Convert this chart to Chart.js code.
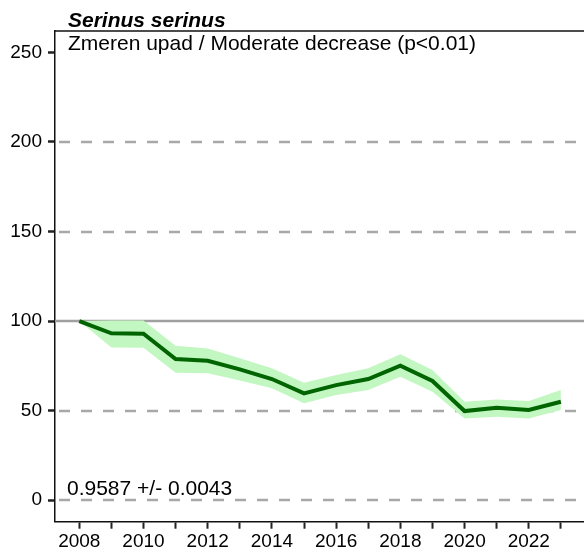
<!DOCTYPE html>
<html>
<head>
<meta charset="utf-8">
<script src="https://cdn.jsdelivr.net/npm/chart.js@4/dist/chart.umd.min.js"></script>
<style>
  html, body { margin: 0; padding: 0; background: #fff; }
  #chart { display: block; }
</style>
</head>
<body>
<canvas id="chart" width="584" height="553"></canvas>
<script>
const years = [2008, 2009, 2010, 2011, 2012, 2013, 2014, 2015, 2016, 2017, 2018, 2019, 2020, 2021, 2022, 2023];
const index = [100, 93.1, 92.9, 78.8, 77.8, 73.0, 67.6, 59.6, 64.2, 67.6, 75.0, 66.5, 49.7, 51.6, 50.3, 54.9];
const upper = [100, 100.3, 100.3, 86.2, 84.7, 79.2, 73.6, 65.5, 69.8, 73.6, 81.4, 72.6, 54.9, 56.2, 55.3, 61.5];
const lower = [100, 85.2, 85.0, 71.1, 70.8, 66.8, 62.4, 54.0, 58.7, 61.5, 68.9, 60.5, 45.6, 46.5, 45.6, 50.3];
const yTicks = [0, 50, 100, 150, 200, 250];
const dashedLines = [0, 50, 150, 200];
const solidLines = [100];

const speciesName = 'Serinus serinus';
const trendText = 'Zmeren upad / Moderate decrease (p<0.01)';
const slopeText = '0.9587 +/- 0.0043';

const toPoints = arr => arr.map((v, i) => ({ x: years[i], y: v }));

const FONT = '"Liberation Sans", Arial, sans-serif';

// reference lines + top frame + texts
const decorations = {
  id: 'decorations',
  beforeDatasetsDraw(chart) {
    const { ctx, chartArea, scales } = chart;
    ctx.save();
    ctx.lineWidth = 2.5;
    ctx.strokeStyle = '#a8a8a8';
    ctx.setLineDash([11, 11]);
    dashedLines.forEach(v => {
      const y = Math.round(scales.y.getPixelForValue(v));
      ctx.beginPath();
      ctx.moveTo(chartArea.left + 4, y);
      ctx.lineTo(chartArea.right, y);
      ctx.stroke();
    });
    ctx.setLineDash([]);
    ctx.strokeStyle = '#a0a0a0';
    solidLines.forEach(v => {
      const y = Math.round(scales.y.getPixelForValue(v));
      ctx.beginPath();
      ctx.moveTo(chartArea.left, y);
      ctx.lineTo(chartArea.right, y);
      ctx.stroke();
    });
    ctx.restore();
  },
  afterDraw(chart) {
    const { ctx, chartArea } = chart;
    ctx.save();
    ctx.strokeStyle = '#111';
    ctx.lineWidth = 1.5;
    ctx.beginPath();
    ctx.moveTo(chartArea.left, chartArea.top);
    ctx.lineTo(chartArea.right, chartArea.top);
    ctx.stroke();

    ctx.fillStyle = '#000';
    ctx.textBaseline = 'alphabetic';
    ctx.textAlign = 'left';
    ctx.font = 'italic bold 21px ' + FONT;
    ctx.fillText(speciesName, chartArea.left + 13, 27);
    ctx.font = '21px ' + FONT;
    ctx.fillText(trendText, chartArea.left + 13, 50);
    ctx.fillText(slopeText, chartArea.left + 12, 495);
    ctx.restore();
  }
};

new Chart(document.getElementById('chart'), {
  type: 'line',
  data: {
    datasets: [
      {
        label: 'index',
        data: toPoints(index),
        borderColor: '#006400',
        borderWidth: 4,
        pointRadius: 0,
        tension: 0,
        fill: false,
        order: 0
      },
      {
        label: 'upper',
        data: toPoints(upper),
        borderWidth: 0,
        borderColor: 'rgba(0,0,0,0)',
        backgroundColor: '#c2f7c2',
        pointRadius: 0,
        tension: 0,
        fill: '+1',
        order: 1
      },
      {
        label: 'lower',
        data: toPoints(lower),
        borderWidth: 0,
        borderColor: 'rgba(0,0,0,0)',
        pointRadius: 0,
        tension: 0,
        fill: false,
        order: 2
      }
    ]
  },
  options: {
    responsive: false,
    animation: false,
    layout: { padding: { top: 31, right: 0, left: 0, bottom: 0 } },
    plugins: {
      legend: { display: false },
      tooltip: { enabled: false },
      title: { display: false }
    },
    scales: {
      x: {
        type: 'linear',
        min: 2007.244,
        max: 2023.72,
        afterBuildTicks: scale => { scale.ticks = years.map(v => ({ value: v })); },
        afterFit: scale => { scale.height = 31.3; },
        ticks: {
          autoSkip: false,
          maxRotation: 0,
          padding: 2,
          color: '#000',
          font: { family: FONT, size: 19 },
          callback: v => (v % 2 === 0 ? String(v) : '')
        },
        grid: {
          drawOnChartArea: false,
          drawTicks: true,
          tickLength: 7,
          tickColor: '#222',
          tickWidth: 2
        },
        border: { display: true, color: '#111', width: 1.5 }
      },
      y: {
        type: 'linear',
        min: -12.1,
        max: 262,
        afterBuildTicks: scale => { scale.ticks = yTicks.map(v => ({ value: v })); },
        afterFit: scale => { scale.width = 55; },
        ticks: {
          padding: 6,
          color: '#000',
          font: { family: FONT, size: 19 }
        },
        grid: {
          drawOnChartArea: false,
          drawTicks: true,
          tickLength: 7,
          tickColor: '#222',
          tickWidth: 2.5
        },
        border: { display: true, color: '#111', width: 1.5 }
      }
    }
  },
  plugins: [decorations]
});
</script>
</body>
</html>
